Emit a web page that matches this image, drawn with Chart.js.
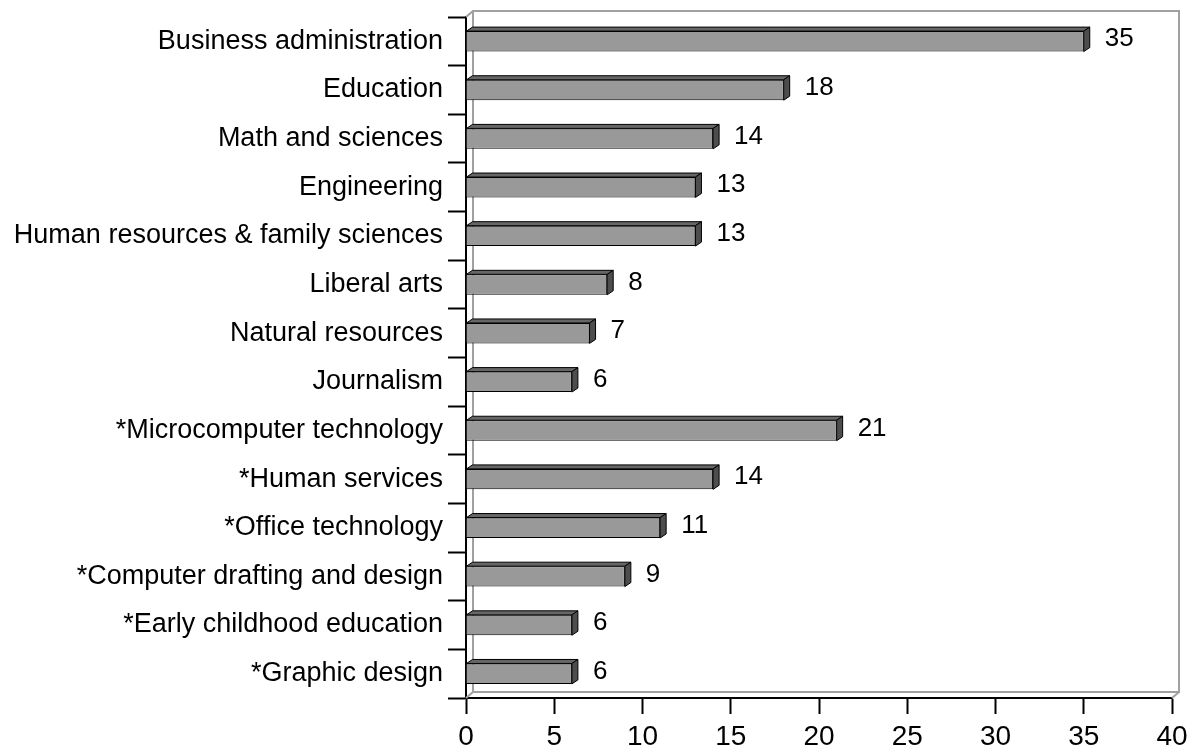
<!DOCTYPE html>
<html>
<head>
<meta charset="utf-8">
<script src="https://cdn.jsdelivr.net/npm/chart.js@4.4.1/dist/chart.umd.min.js"></script>
<style>
  body { margin: 0; background: #fff; }
  canvas { display: block; }
</style>
</head>
<body>
<canvas id="barChart" width="1194" height="754"></canvas>
<script>
var categories = [
    'Business administration',
    'Education',
    'Math and sciences',
    'Engineering',
    'Human resources & family sciences',
    'Liberal arts',
    'Natural resources',
    'Journalism',
    '*Microcomputer technology',
    '*Human services',
    '*Office technology',
    '*Computer drafting and design',
    '*Early childhood education',
    '*Graphic design'
];
var counts = [35, 18, 14, 13, 13, 8, 7, 6, 21, 14, 11, 9, 6, 6];
var xTicks = [0, 5, 10, 15, 20, 25, 30, 35, 40];

var FONT = '"Liberation Sans", Arial, sans-serif';
var BAR_DX = 6, BAR_DY = 4;     // depth of the 3d bars
var WALL_DX = 7, WALL_DY = 6;   // depth of the back wall

// gray back wall + floor like the old excel 3d chart
var wallPlugin = {
    id: 'wall',
    beforeDatasetsDraw: function(chart) {
        var a = chart.chartArea, ctx = chart.ctx;
        ctx.save();
        ctx.strokeStyle = '#a0a0a0';
        ctx.lineWidth = 2;
        ctx.beginPath();
        ctx.rect(a.left + WALL_DX, a.top - WALL_DY, a.right - a.left, a.bottom - a.top);
        ctx.moveTo(a.left, a.top);
        ctx.lineTo(a.left + WALL_DX, a.top - WALL_DY);
        ctx.moveTo(a.left, a.bottom);
        ctx.lineTo(a.left + WALL_DX, a.bottom - WALL_DY);
        ctx.moveTo(a.right, a.bottom);
        ctx.lineTo(a.right + WALL_DX, a.bottom - WALL_DY);
        ctx.stroke();
        ctx.restore();
    }
};

// top and side faces of each bar, then the value labels
var bar3dPlugin = {
    id: 'bar3d',
    afterDatasetsDraw: function(chart) {
        var ctx = chart.ctx;
        var meta = chart.getDatasetMeta(0);
        ctx.save();
        ctx.lineWidth = 1;
        ctx.strokeStyle = '#000';
        meta.data.forEach(function(bar, i) {
            var top = bar.y - bar.height / 2;
            var bottom = bar.y + bar.height / 2;
            var x0 = bar.base, x1 = bar.x;

            ctx.fillStyle = '#666666';
            ctx.beginPath();
            ctx.moveTo(x0, top);
            ctx.lineTo(x0 + BAR_DX, top - BAR_DY);
            ctx.lineTo(x1 + BAR_DX, top - BAR_DY);
            ctx.lineTo(x1, top);
            ctx.closePath();
            ctx.fill();
            ctx.stroke();

            ctx.fillStyle = '#4d4d4d';
            ctx.beginPath();
            ctx.moveTo(x1, top);
            ctx.lineTo(x1 + BAR_DX, top - BAR_DY);
            ctx.lineTo(x1 + BAR_DX, bottom - BAR_DY);
            ctx.lineTo(x1, bottom);
            ctx.closePath();
            ctx.fill();
            ctx.stroke();

            ctx.fillStyle = '#000';
            ctx.font = '26px ' + FONT;
            ctx.textAlign = 'left';
            ctx.textBaseline = 'middle';
            ctx.fillText(String(counts[i]), x1 + BAR_DX + 15, bar.y - 2);
        });
        ctx.restore();
    }
};

var ctx = document.getElementById('barChart').getContext('2d');
var myBarChart = new Chart(ctx, {
    type: 'bar',
    data: {
        labels: categories,
        datasets: [{
            data: counts,
            backgroundColor: '#999999',
            borderColor: '#000000',
            borderWidth: 1,
            categoryPercentage: 1,
            barPercentage: 0.42
        }]
    },
    options: {
        indexAxis: 'y',
        responsive: false,
        animation: false,
        layout: {
            padding: { top: 17, right: 22, left: 0, bottom: 0 }
        },
        plugins: {
            legend: { display: false },
            tooltip: { enabled: false }
        },
        scales: {
            x: {
                min: xTicks[0],
                max: xTicks[xTicks.length - 1],
                afterBuildTicks: function(scale) {
                    scale.ticks = xTicks.map(function(v) { return { value: v }; });
                },
                afterFit: function(scale) {
                    scale.height = 56;
                    scale.paddingLeft = 0;
                    scale.paddingRight = 0;
                },
                grid: {
                    drawOnChartArea: false,
                    drawTicks: true,
                    tickLength: 16,
                    tickColor: '#000',
                    tickWidth: 2
                },
                border: { color: '#000', width: 2 },
                ticks: {
                    color: '#000',
                    font: { family: FONT, size: 28 },
                    padding: 6,
                    maxRotation: 0
                }
            },
            y: {
                afterFit: function(scale) {
                    scale.width = 466;
                    scale.paddingTop = 0;
                    scale.paddingBottom = 0;
                },
                grid: {
                    drawOnChartArea: false,
                    drawTicks: true,
                    offset: true,
                    tickLength: 18,
                    tickColor: '#000',
                    tickWidth: 2
                },
                border: { color: '#000', width: 2 },
                ticks: {
                    color: '#000',
                    font: { family: FONT, size: 27 },
                    padding: 5
                }
            }
        }
    },
    plugins: [wallPlugin, bar3dPlugin]
});
</script>
</body>
</html>
